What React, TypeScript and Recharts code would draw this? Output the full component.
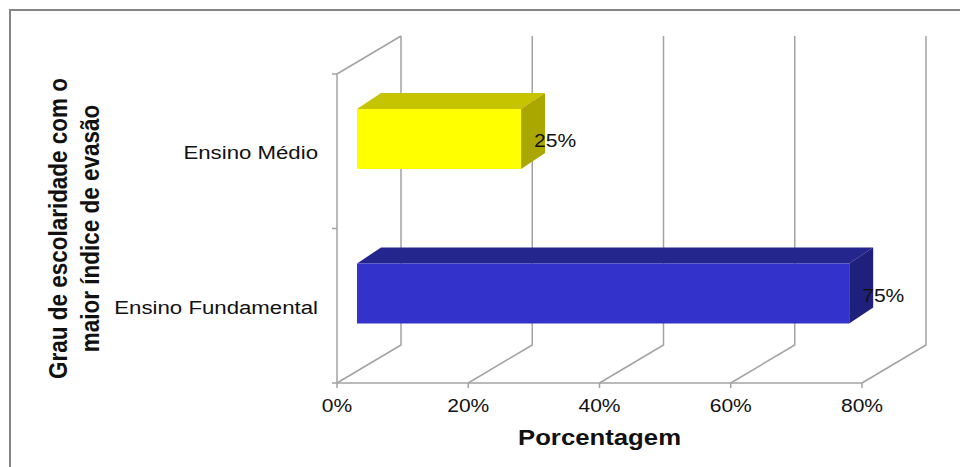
import React from 'react';
import { BarChart, Bar, XAxis, YAxis, CartesianGrid, Cell, LabelList, ReferenceLine } from 'recharts';

// ---- data ----
const categories = ['Ensino Médio', 'Ensino Fundamental'];
const values = [0.25, 0.75];
const xTicks = [0, 0.2, 0.4, 0.6, 0.8];
const frontColors = ['#FFFF00', '#3333CC'];
const topColors = ['#C6C300', '#25258E'];
const sideColors = ['#A9A700', '#1F1F7C'];
const yTitleLines = ['Grau de escolaridade com o', 'maior índice de evasão'];
const xTitle = 'Porcentagem';

const data = categories.map((c, i) => ({ category: c, value: values[i] }));

// ---- styling / pseudo-3D geometry ----
const DX = 64; // wall depth (x)
const DY = -38; // wall depth (y)
const BX = 20; // bar front-plane shift
const BY = -12;
const TX = 24; // bar depth
const TY = -16;
const SX = 1.17; // horizontal text stretch of the reference
const GRID = '#A3A3A3';
const FONT = '"Liberation Sans", Arial, sans-serif';
const pct = (v: number) => `${Math.round(v * 100)}%`;

const GridLine = (props: any) => {
  const { x1, y1, y2 } = props;
  const top = Math.min(y1, y2);
  const bottom = Math.max(y1, y2);
  return (
    <path
      key={`g-${x1}`}
      d={`M${x1},${bottom} L${x1 + DX},${bottom + DY} L${x1 + DX},${top + DY}`}
      stroke={GRID}
      strokeWidth={1.5}
      fill="none"
    />
  );
};

const LeftWall = (props: any) => {
  const { x1, y1, y2 } = props;
  const top = Math.min(y1, y2);
  const bottom = Math.max(y1, y2);
  const mid = (top + bottom) / 2;
  return (
    <g>
      <path d={`M${x1},${top} L${x1 + DX},${top + DY}`} stroke={GRID} strokeWidth={1.5} fill="none" />
      {[top, mid, bottom].map((yy, i) => (
        <line key={i} x1={x1 - 5} y1={yy} x2={x1} y2={yy} stroke={GRID} strokeWidth={1.5} />
      ))}
    </g>
  );
};

const Bar3D = (props: any) => {
  const { x, y, width, height, payload } = props;
  const i = Math.max(0, categories.indexOf(payload?.category));
  const fx = x + BX;
  const fy = y + BY;
  return (
    <g>
      <polygon
        points={`${fx},${fy} ${fx + width},${fy} ${fx + width + TX},${fy + TY} ${fx + TX},${fy + TY}`}
        fill={topColors[i]}
      />
      <polygon
        points={`${fx + width},${fy} ${fx + width + TX},${fy + TY} ${fx + width + TX},${fy + height + TY} ${fx + width},${fy + height}`}
        fill={sideColors[i]}
      />
      <rect x={fx} y={fy} width={width} height={height} fill={frontColors[i]} />
    </g>
  );
};

const ValueLabel = (props: any) => {
  const vb = props.viewBox ?? props;
  const x = vb.x ?? props.x;
  const y = vb.y ?? props.y;
  const width = vb.width ?? props.width;
  const height = vb.height ?? props.height;
  const value = props.value;
  return (
    <g transform={`translate(${x + width + 33},${y + height / 2 - 10})`}>
      <text
        transform={`scale(${SX},1)`}
        textAnchor="start"
        dominantBaseline="central"
        fontSize={18}
        fontFamily={FONT}
        fill="#111"
      >
        {pct(Number(value))}
      </text>
    </g>
  );
};

const XTick = (props: any) => {
  const { x, y, payload } = props;
  return (
    <g transform={`translate(${x},${y})`}>
      <text
        transform={`scale(${SX},1)`}
        y={16}
        textAnchor="middle"
        dominantBaseline="central"
        fontSize={18}
        fontFamily={FONT}
        fill="#111"
      >
        {pct(Number(payload.value))}
      </text>
    </g>
  );
};

const YTick = (props: any) => {
  const { x, y, payload } = props;
  return (
    <g transform={`translate(${x},${y + 1})`}>
      <text
        transform={`scale(${SX},1)`}
        textAnchor="end"
        dominantBaseline="central"
        fontSize={19}
        fontFamily={FONT}
        fill="#111"
      >
        {payload.value}
      </text>
    </g>
  );
};

const YTitle = (props: any) => {
  const vb = props.viewBox || { x: 0, y: 0, width: 0, height: 0 };
  const cx = vb.x + 66;
  const cy = vb.y + vb.height / 2;
  return (
    <g transform={`translate(${cx},${cy}) scale(${SX},1) rotate(-90)`}>
      <text textAnchor="middle" fontSize={22.5} fontWeight="bold" fontFamily={FONT} fill="#111">
        <tspan x={0} y={-13.7} dominantBaseline="central">{yTitleLines[0]}</tspan>
        <tspan x={0} y={13.7} dominantBaseline="central">{yTitleLines[1]}</tspan>
      </text>
    </g>
  );
};

const XTitle = (props: any) => {
  const vb = props.viewBox || { x: 0, y: 0, width: 0, height: 0 };
  return (
    <g transform={`translate(${vb.x + vb.width / 2},${vb.y + 54})`}>
      <text
        transform={`scale(${SX},1)`}
        textAnchor="middle"
        dominantBaseline="central"
        fontSize={22}
        fontWeight="bold"
        fontFamily={FONT}
        fill="#111"
      >
        {xTitle}
      </text>
    </g>
  );
};

export default function App() {
  return (
    <div style={{ position: 'relative', width: 960, height: 459, overflow: 'hidden', background: '#fff' }}>
      <div
        style={{
          position: 'absolute',
          left: 1,
          top: 1,
          width: 1200,
          height: 1200,
          border: '2px solid #858585',
          boxSizing: 'border-box',
          pointerEvents: 'none',
        }}
      />
      <BarChart
        width={960}
        height={459}
        data={data}
        layout="vertical"
        margin={{ top: 66, right: 106, bottom: 0, left: 0 }}
        style={{ position: 'absolute', left: 0, top: 0 }}
      >
        <CartesianGrid horizontal={false} vertical={GridLine} stroke={GRID} />
        <XAxis
          type="number"
          domain={[0, 0.8]}
          ticks={xTicks}
          height={84}
          tick={<XTick />}
          tickSize={5}
          tickMargin={2}
          tickLine={{ stroke: GRID, strokeWidth: 1.5 }}
          axisLine={{ stroke: GRID, strokeWidth: 1.5 }}
          label={<XTitle />}
        />
        <YAxis
          type="category"
          dataKey="category"
          width={329}
          tickLine={false}
          tickSize={6}
          tickMargin={13}
          tick={<YTick />}
          axisLine={{ stroke: GRID, strokeWidth: 1.5 }}
          label={<YTitle />}
        />
        <ReferenceLine x={0} stroke={GRID} shape={LeftWall} ifOverflow="visible" />
        <Bar dataKey="value" barSize={60} shape={Bar3D} isAnimationActive={false}>
          {data.map((d, i) => (
            <Cell key={d.category} fill={frontColors[i]} />
          ))}
          <LabelList dataKey="value" content={ValueLabel} />
        </Bar>
      </BarChart>
    </div>
  );
}
